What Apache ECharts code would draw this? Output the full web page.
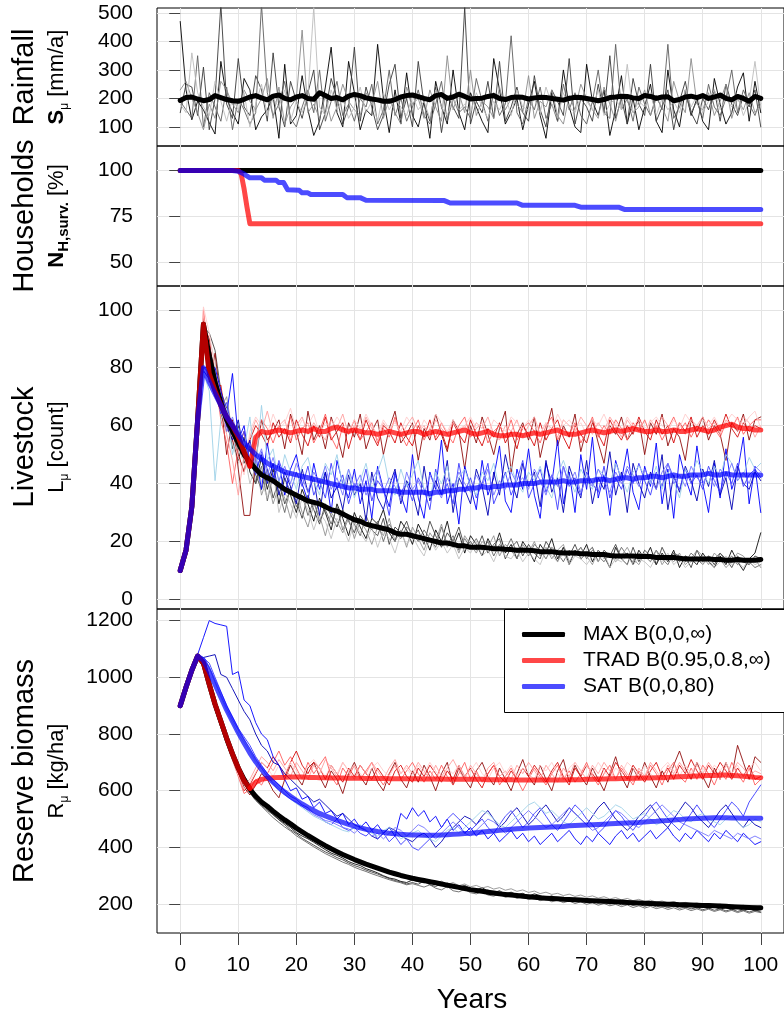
<!DOCTYPE html>
<html><head><meta charset="utf-8">
<script src="https://cdn.jsdelivr.net/npm/echarts@6/dist/echarts.min.js"></script>
<style>html,body{margin:0;padding:0;background:#fff}#c{width:784px;height:1019px}</style>
</head><body><div id="c"></div>
<script>
// ---------- tick labels ----------
const xTicks = [0,10,20,30,40,50,60,70,80,90,100];
const rainTicks = [100,200,300,400,500];
const hhTicks = [50,75,100];
const livTicks = [0,20,40,60,80,100];
const bioTicks = [200,400,600,800,1000,1200];
const legendNames = ['MAX B(0,0,\u221E)','TRAD B(0.95,0.8,\u221E)','SAT B(0,0,80)'];

// ---------- Rainfall (years 0..100) ----------
const rainMean = [193,203,205,198,192,196,210,203,196,192,
190,197,205,210,202,195,208,212,200,195,
205,210,200,197,220,210,200,203,195,208,
214,210,202,198,195,190,190,196,205,210,
212,206,200,195,210,214,200,205,215,207,
198,200,201,207,210,200,196,203,205,204,
198,202,204,203,200,197,194,200,204,203,
200,196,192,196,203,205,208,207,202,200,
210,207,200,205,206,192,196,205,208,203,
210,200,205,212,200,195,207,200,190,207,200];
const rainRun1 = [470,230,125,190,160,115,75,330,200,150,
110,270,230,90,135,160,210,60,320,110,
140,280,160,70,120,240,380,150,100,330,
220,90,160,140,390,200,80,230,110,290,
140,100,190,60,260,170,110,300,150,90,
220,170,120,80,340,230,110,150,200,90,
180,260,140,60,220,120,300,170,100,80,
320,190,140,230,70,160,280,110,200,90,
170,250,120,80,300,160,100,230,140,200,
120,90,270,180,110,150,240,290,120,260,150];
const rainRun2 = [150,250,240,140,310,90,200,530,180,130,
340,170,140,280,230,120,360,170,100,260,
190,130,220,300,90,150,270,200,110,170,
380,120,240,170,90,140,250,320,130,200,
100,330,180,120,240,80,210,170,130,520,
110,190,150,260,130,330,120,170,240,150,
120,280,160,100,230,190,140,340,110,200,
170,120,250,150,350,130,200,110,270,180,
140,320,120,170,230,90,190,260,150,110,
200,160,230,120,250,180,140,210,170,230,100];
const rainRun3 = [190,160,130,350,100,220,170,120,240,90,
200,160,110,150,530,220,140,180,260,130,
100,170,230,150,300,120,190,260,140,180,
120,200,170,250,110,160,300,140,200,120,
170,230,140,110,180,260,120,200,150,170,
130,270,190,120,220,140,180,420,150,110,
200,160,240,130,180,120,250,160,220,140,
110,190,300,150,130,390,160,200,120,240,
180,140,210,160,390,130,170,220,150,190,
130,250,170,140,200,300,150,230,180,140,200];
const rainRun4 = [230,260,200,150,90,180,130,260,230,180,
150,230,190,160,200,270,130,240,110,170,
200,440,150,180,130,210,120,170,250,190,
160,140,220,180,260,130,200,150,110,240,
180,200,130,230,170,120,350,160,220,150,
300,140,190,170,130,240,160,200,180,150,
280,130,190,170,230,140,110,210,160,250,
200,160,130,240,180,120,210,190,150,170,
230,140,200,170,120,260,190,150,340,180,
160,220,140,190,250,130,200,160,220,150,180];
const rainRun5 = [180,150,360,220,170,140,260,190,120,200,
160,220,100,180,250,140,200,170,230,120,
190,150,210,520,170,140,230,160,200,130,
170,240,150,190,120,220,160,200,170,140,
210,160,190,130,230,170,140,200,160,180,
150,220,170,130,190,160,210,140,230,170,
160,200,150,240,180,130,220,170,150,210,
190,160,230,140,180,200,160,320,150,190,
170,220,140,200,160,190,150,230,170,210,
150,190,230,160,200,170,210,140,190,330,170];

// ---------- Households surviving [%] : [year, value] ----------
const hhMax = [[0,100],[100,100]];
const hhTrad = [[0,100],[10,100],[10.5,98],[11,90],[11.5,80],[12,71],[100,71]];
const hhSat = [[0,100],[9,100],[10,99.5],[11,98],[12,96],[14,96],[14.5,94.7],[16.5,94.7],[17,93.4],[17.8,93.4],[18.5,89.5],[20.5,89.2],[21,87.8],[22,87.8],[22.5,86.9],[28,86.9],[28.7,85.2],[31,85.2],[32,83.8],[45.5,83.6],[46.5,82.3],[58,82.3],[59,81],[68,81],[69,80],[75.5,80],[76.5,78.8],[100,78.8]];

// ---------- Livestock (years 0..100 unless a start year is given) ----------
const livMaxMean = [10,17,32,62,95,84,75,68,62,58,
54,50,47.5,45,43,42,41,39.5,38,37,
36,35,34,33.5,33,32,31,30.5,29.5,28.5,
27.5,27,26,25.5,25,24.5,24,23,22.5,22.5,
22,21.5,21,20.5,20,19.5,19.5,19,18.5,18.5,
18,18,18,17.8,17.5,17.5,17.3,17.2,17,17,
17,16.8,16.5,16.5,16.5,16.2,16,16,16,15.8,
15.8,15.5,15.5,15.5,15.2,15,15,15,15,14.8,
14.8,14.8,14.5,14.5,14.5,14.5,14.2,14,14,14,
14,14,13.8,13.8,13.5,13.5,13.8,13.5,13.5,13.5,13.8];
const livTradEarly = [10,17,32,62,95,78,72,67,63,60,56,51,46];
const livTradMeanStart = 12;
const livTradMean = [46,56,58,57.5,58,58.5,58,57.5,
58,58.5,58,59,58,58,59,59.5,58.5,58,
58.5,58,57.5,57.5,57,57.5,58,57.5,57,57.5,
58,58,57,57.5,58,57.5,57,57.5,58,58.5,
57.5,57,57.5,58,57,56.5,56.5,57,57,56.5,
57,57.5,57,57.5,58,58.5,57.5,57,57,57.5,
58,58.5,58,57.5,58,58.5,58,58.5,59,58.5,
58,58,58.5,58,58,58.5,58,58,58.5,59,
58.5,58,58.5,59.5,60,60.5,59.5,59,59,58.5,58.5];
const livSatMean = [10,17,32,62,80,75,71,67,63,60,
57,54,52,50,48.5,47,46,45,44,43.5,
43,42.5,42,41.5,41,40.5,40,39.5,39,38.5,
38.5,38,38,38,37.5,37.5,37.5,37.5,37,37,
37,37,37,36.5,37,37,37.5,37.5,38,38,
38.5,38.5,39,38.5,39,39,39.5,39.5,39.5,40,
40,40,40.5,40.5,40.5,40.5,41,40.5,40.5,41,
41,41,41.5,41.5,41,41.5,42,42,41.5,42,
42,42.5,42.5,42,42.5,43,42.5,42.5,43,43,
43,43.5,43,43,43.5,43,43,43,43,43,43];

const livMaxRun1 = [10,17,32,62,96,88,78,70,60,55,
48,56,44,40,49,38,45,33,42,36,
30,38,33,27,35,30,24,33,28,22,
30,25,21,28,26,31,23,20,27,24,
19,26,22,17,24,20,27,18,23,16,
22,19,15,21,17,23,16,19,14,20,
17,13,19,16,21,14,18,12,17,15,
19,13,17,15,11,18,14,16,12,17,
14,18,12,16,13,17,11,15,14,12,
16,13,11,15,12,17,13,10,14,16,23];
const livMaxRun2 = [10,17,32,62,94,92,86,72,66,52,
60,47,52,43,38,45,35,41,33,38,
34,28,36,31,26,33,29,25,31,27,
23,29,26,24,22,28,19,25,23,27,
21,24,19,27,22,18,23,20,25,18,
20,17,22,16,19,21,14,18,20,15,
19,16,14,20,17,13,18,15,19,14,
16,18,13,17,15,19,14,12,18,13,
17,15,12,18,14,16,13,15,11,17,
13,15,12,16,14,11,15,13,12,15,14];
const livMaxRun3 = [10,17,32,62,92,84,80,64,58,62,
50,44,53,40,46,34,43,37,30,39,
32,36,29,34,27,31,26,32,24,29,
26,22,29,24,27,20,26,23,21,25,
23,20,24,21,18,25,19,22,17,21,
18,21,17,20,15,19,17,21,16,18,
15,19,17,14,18,16,13,17,15,18,
14,17,15,13,16,14,18,15,13,16,
15,13,17,14,12,16,15,13,16,14,
12,15,14,16,13,15,12,14,13,11,12];
const livMaxRun4 = [10,17,32,62,95,86,74,66,70,57,
52,58,45,48,36,42,33,39,35,28,
37,30,25,33,29,22,30,27,23,28,
21,27,24,19,25,22,28,20,24,18,
25,21,17,23,20,26,18,21,16,22,
19,16,20,18,22,15,19,17,14,19,
16,20,15,18,14,17,19,13,16,18,
15,12,17,14,16,13,15,18,14,12,
16,14,17,12,15,13,16,12,14,17,
15,12,16,14,11,13,16,15,12,14,11];
const livMaxRun5 = [10,17,32,62,93,90,82,68,61,54,
47,51,40,46,41,35,44,30,37,33,
28,35,31,24,30,27,21,28,25,20,
27,23,20,25,18,24,21,16,23,19,
22,18,15,21,17,20,16,19,14,18,
16,20,15,17,13,18,15,14,17,13,
16,14,12,17,15,13,16,12,15,14,
12,15,13,16,11,14,13,15,12,14,
13,11,15,13,16,12,14,11,13,15,
12,14,11,13,15,12,13,11,14,12,13];

const livTradRun1 = [10,17,32,62,97,75,85,68,50,62,
45,29,29,48,62,55,58,62,52,64,
58,50,65,55,60,52,63,57,49,61,
56,64,52,58,62,50,59,65,54,57,
61,48,59,55,64,57,51,62,58,45,
60,54,63,57,50,59,65,44,57,61,
55,63,49,58,66,53,60,56,64,51,
59,62,54,47,60,57,63,55,58,62,
50,61,57,64,53,59,56,48,62,58,
63,55,60,57,48,61,58,64,55,62,63];
const livTradRun2 = [10,17,32,62,95,90,72,74,60,55,
50,44,55,60,57,53,61,56,59,54,
62,57,53,60,56,63,55,58,61,52,
59,55,62,57,53,60,58,54,61,56,
53,60,56,62,55,58,52,61,57,54,
62,57,53,59,56,61,54,58,52,60,
57,53,61,55,59,62,56,52,60,57,
54,61,57,53,62,58,55,60,57,63,
58,55,62,57,60,54,61,58,63,56,
60,57,62,58,64,59,56,61,58,60,59];
const livTradRun3 = [10,17,32,62,100,82,76,62,54,40,
52,58,47,56,62,59,54,60,57,63,
55,59,61,54,58,64,56,52,60,57,
62,55,58,61,54,59,56,63,57,53,
58,62,55,59,56,61,57,54,60,63,
56,59,61,54,58,60,56,62,55,59,
61,58,54,60,63,55,59,57,61,54,
58,63,56,60,57,62,59,55,61,58,
62,57,60,55,59,63,58,61,56,60,
58,62,59,56,61,59,63,57,60,62,62];
const livTradRun4 = [10,17,32,62,98,88,70,66,57,48,
36,50,56,62,58,65,57,60,62,55,
60,63,57,61,58,55,62,59,64,57,
60,57,63,59,55,61,58,62,56,60,
63,58,60,56,62,59,57,61,58,60,
57,61,59,63,57,55,60,58,62,56,
60,63,57,61,59,56,62,60,58,63,
60,57,61,58,63,60,56,62,59,61,
57,62,59,63,60,58,61,57,62,60,
63,59,61,57,62,60,58,63,61,56,60];
const livTradRun5 = [10,17,32,62,101,92,80,71,63,56,
49,43,58,63,60,57,64,59,61,66,
58,62,60,64,57,61,59,63,60,58,
62,59,64,60,57,62,59,61,58,63,
60,57,62,59,64,61,58,62,59,60,
63,59,61,57,62,60,58,63,61,59,
62,60,57,61,58,64,60,62,59,61,
57,62,60,64,59,61,58,63,60,62,
59,61,63,60,58,62,59,64,61,60,
62,60,63,59,61,64,62,60,63,65,59];

const livSatRun1 = [10,17,32,62,80,80,80,72,64,78,
55,60,46,50,38,54,42,47,36,45,
50,40,34,47,38,44,30,48,40,35,
45,33,41,28,46,38,32,44,36,30,
50,35,28,44,38,55,33,40,26,46,
39,31,48,36,42,53,34,30,45,38,
52,36,28,47,40,55,33,44,30,50,
38,56,35,43,29,48,41,52,37,31,
46,39,54,33,45,28,50,42,36,53,
40,30,47,35,52,38,44,56,33,46,30];
const livSatRun2 = [10,17,32,62,79,76,70,66,60,55,
62,50,55,44,50,40,47,36,44,39,
33,45,37,42,29,44,35,39,31,43,
36,40,27,44,35,31,39,45,33,41,
37,29,46,34,41,36,48,30,42,38,
33,45,39,29,44,36,50,41,35,47,
39,44,32,48,37,42,30,46,40,35,
48,33,42,38,51,36,44,30,47,40,
35,44,38,50,31,43,37,46,41,34,
45,39,48,36,42,31,46,40,38,44,41];
const livSatRun3 = [10,17,32,62,80,78,73,64,68,57,
53,58,48,43,51,45,40,48,42,37,
44,39,46,36,41,35,47,38,43,33,
40,37,45,34,41,38,29,43,37,40,
34,42,38,31,45,36,40,33,47,37,
42,35,40,47,33,38,44,36,41,48,
35,40,45,37,43,31,46,39,42,36,
44,40,37,46,35,42,38,45,40,47,
41,36,44,39,47,42,38,45,40,43,
38,46,41,37,44,40,47,39,43,45,42];
const livSatRun4 = [10,17,32,62,78,72,41,62,66,50,
59,52,63,45,67,48,52,40,50,44,
38,46,49,41,36,47,43,50,39,45,
35,41,47,38,44,50,40,36,45,39,
43,48,38,35,44,40,46,37,42,45,
39,36,44,41,47,38,43,46,40,37,
44,41,46,39,35,43,48,42,37,45,
41,38,45,43,40,47,42,37,44,46,
43,40,46,38,44,41,35,45,42,48,
44,40,46,42,50,47,41,43,49,45,47];
const livSatRun5 = [10,17,32,62,80,79,75,70,58,63,
56,49,54,47,52,43,49,41,46,40,
47,42,37,44,40,46,38,42,36,45,
39,43,36,41,45,37,42,39,34,44,
38,41,36,43,39,35,42,38,44,40,
37,43,39,45,36,41,38,44,40,42,
38,45,41,36,43,39,46,40,44,37,
42,39,45,41,37,44,40,46,43,39,
45,41,38,44,47,40,43,39,46,42,
40,44,39,45,42,47,41,44,40,46,44];

// ---------- Reserve biomass ----------
const bioMaxMean = [900,965,1025,1075,1050,975,905,845,785,730,
680,640,605,580,560,545,528,512,497,483,
468,455,442,430,418,406,395,385,375,366,
357,349,341,334,327,320,313,307,301,296,
291,287,283,279,275,271,267,263,259,255,
251,248,245,242,239,236,234,232,230,228,
226,224,222,221,220,219,217,216,215,214,
213,212,211,210,209,208,207,206,205,204,
203,202,201,200,199,199,198,198,197,196,
195,195,194,193,192,191,190,189,188,187,187];
const bioTradEarly = [900,965,1025,1075,1050,975,905,845,785,730,680,635,608];
const bioTradMeanStart = 12;
const bioTradMean = [608,630,640,644,646,647,647,648,
648,648,647,647,646,646,645,645,645,644,
644,644,643,643,643,643,642,642,642,642,
642,642,641,641,641,641,640,640,640,640,
640,640,640,639,639,639,639,639,638,638,
638,638,638,638,638,638,638,639,639,639,
640,640,641,641,642,642,643,643,644,644,
645,645,646,646,647,648,649,650,651,652,
653,654,654,655,655,654,653,651,649,647,646];
const bioSatMean = [900,965,1025,1075,1060,1020,975,930,885,845,
805,768,733,702,675,650,630,612,595,580,
566,553,541,530,520,511,503,495,488,481,
475,469,464,460,456,453,450,448,446,445,
444,444,443,443,443,444,445,446,447,449,
450,452,454,456,458,460,462,464,466,467,
468,469,470,471,472,473,474,476,477,478,
479,480,481,482,483,484,485,486,487,488,
490,491,492,494,495,497,498,500,501,502,
503,504,505,505,505,504,504,503,503,503,503];

const bioMaxRun1 = [900,965,1025,1070,1040,965,890,830,770,715,
670,630,598,575,551,537,515,498,485,470,
452,440,430,418,405,392,380,372,362,350,
342,336,325,318,310,300,292,288,280,276,
285,279,275,282,270,266,274,262,258,266,
255,250,258,246,240,247,236,242,233,238,
228,236,230,222,229,218,224,216,221,213,
219,209,215,207,212,204,210,201,207,198,
205,196,202,193,199,191,197,188,194,186,
192,184,190,182,188,180,186,178,184,176,180];
const bioMaxRun2 = [900,965,1025,1072,1045,972,900,838,778,722,
676,636,600,572,548,530,516,497,480,462,
448,432,420,408,396,384,375,364,356,345,
336,329,320,313,306,298,290,283,278,271,
276,270,281,268,262,272,258,265,253,259,
248,254,243,250,238,244,234,239,229,235,
225,231,221,227,217,223,213,219,210,215,
206,212,203,209,200,206,197,203,195,200,
192,198,190,195,187,193,185,190,183,188,
180,186,178,184,176,182,174,180,172,178,172];
const bioMaxRun3 = [900,965,1025,1068,1035,958,885,822,762,708,
662,622,592,565,545,525,505,488,472,458,
441,428,415,402,390,378,368,358,348,340,
330,322,315,307,300,293,286,280,275,268,
272,266,260,268,256,250,262,247,243,252,
240,236,245,232,228,236,224,230,220,226,
216,222,212,218,208,214,205,211,202,208,
199,205,196,202,194,199,191,197,188,194,
186,192,184,189,181,187,179,185,177,183,
176,182,174,180,172,178,170,176,168,174,170];
const bioMaxRun4 = [900,965,1025,1071,1048,978,908,846,790,738,
690,652,618,590,568,548,530,512,496,480,
465,450,436,424,412,400,390,380,370,361,
352,344,337,330,322,315,308,302,296,290,
284,290,279,286,274,281,269,276,265,271,
261,266,257,262,253,258,249,254,245,250,
241,246,237,242,234,238,230,235,227,232,
224,229,221,226,218,223,215,220,212,217,
209,214,207,211,204,209,202,206,200,204,
198,202,196,200,194,198,192,196,190,194,188];

const bioTradRun1 = [900,965,1025,1078,1060,990,915,845,780,720,
665,612,585,620,660,640,600,575,640,690,
650,620,680,700,650,610,670,640,590,660,
700,650,620,680,630,600,660,700,640,610,
670,630,690,650,600,660,700,620,680,640,
610,670,700,650,620,680,640,600,660,710,
650,620,690,640,600,670,710,630,690,650,
620,680,640,600,660,720,650,610,680,640,
700,650,610,670,630,690,740,680,640,700,
650,610,680,640,700,650,760,700,640,720,700];
const bioTradRun2 = [900,965,1025,1075,1055,985,910,840,775,715,
660,600,620,660,700,680,720,690,650,700,
740,690,660,700,680,640,690,660,630,680,
650,690,660,640,680,650,620,670,690,650,
630,680,650,690,660,630,670,640,690,650,
680,640,610,660,690,650,630,670,640,680,
650,690,660,630,670,700,650,620,680,650,
690,660,630,680,650,700,670,640,690,660,
630,670,700,650,680,640,690,660,710,670,
640,690,660,700,670,640,680,650,690,640,650];
const bioTradRun3 = [900,965,1025,1074,1050,980,905,835,770,708,
650,590,605,640,620,660,700,740,690,720,
680,640,700,660,690,720,650,620,680,650,
690,640,670,700,650,620,660,690,640,670,
700,660,630,670,640,690,650,620,660,700,
640,670,630,660,690,620,650,680,640,600,
640,680,650,620,660,690,640,670,630,660,
700,650,620,660,690,640,680,650,620,670,
640,690,660,620,670,700,650,630,680,640,
690,660,620,670,640,700,660,630,680,620,640];
const bioTradRun4 = [900,965,1025,1076,1058,992,920,850,785,728,
672,622,640,680,720,700,670,710,680,650,
700,670,640,690,660,710,680,650,700,670,
640,690,660,700,670,640,680,710,660,690,
660,700,670,640,690,650,680,710,670,640,
690,660,630,680,700,650,670,640,690,660,
700,670,640,690,660,630,680,650,700,670,
640,690,660,700,670,640,690,660,630,680,
650,700,670,640,690,660,700,670,650,690,
660,700,670,640,690,660,700,680,650,670,660];
const bioTradRun5 = [900,965,1025,1073,1052,982,908,838,772,712,
655,605,630,665,700,680,650,690,660,700,
670,640,690,710,680,650,690,660,700,670,
690,660,640,680,700,670,650,690,660,680,
650,690,660,700,670,640,680,660,690,650,
670,700,660,640,680,700,660,690,650,680,
660,640,690,670,700,660,640,680,700,670,
690,660,700,670,640,680,660,700,680,650,
690,660,640,680,700,670,650,690,660,700,
680,650,690,670,700,660,690,650,680,700,670];

const bioSatRun1 = [900,965,1025,1080,1140,1200,1190,1185,1180,1010,
1020,920,900,840,800,780,720,690,640,600,
610,570,580,540,560,520,530,500,520,480,
500,470,490,460,480,450,470,440,520,500,
540,510,530,490,510,470,500,460,480,450,
470,440,460,430,450,420,440,460,430,450,
420,440,410,430,450,420,440,460,430,410,
440,420,450,430,410,440,460,430,450,420,
440,460,430,450,470,440,420,450,430,460,
440,420,450,430,460,440,420,450,430,410,420];
const bioSatRun2 = [900,965,1025,1075,1070,1075,1080,1010,1000,960,
920,880,850,800,760,740,700,690,660,640,
620,600,580,560,570,550,530,510,520,500,
480,470,460,440,430,450,470,460,440,430,
420,440,450,430,400,420,450,470,490,510,
500,480,510,530,500,470,490,520,540,510,
480,500,530,550,520,490,510,540,520,500,
480,510,540,560,530,500,480,460,480,510,
530,550,520,490,470,500,530,560,540,510,
490,470,500,530,550,520,490,470,500,480,470];
const bioSatRun3 = [900,965,1025,1074,1068,1050,1000,950,900,860,
820,790,760,720,690,660,640,620,600,580,
570,550,540,520,510,490,480,500,470,460,
470,450,440,460,430,450,420,440,410,430,
400,390,410,430,450,470,500,520,500,480,
460,480,500,470,450,480,510,530,500,470,
490,520,540,510,480,460,490,520,550,530,
500,480,450,470,500,530,510,480,460,490,
510,540,560,530,500,480,460,490,520,550,
520,490,470,500,530,560,540,510,560,590,620];
const bioSatRun4 = [900,965,1025,1073,1060,1040,980,930,880,840,
800,770,740,700,680,650,630,610,590,570,
555,540,525,510,500,490,480,470,460,455,
470,480,460,450,440,460,470,450,430,440,
450,460,440,430,420,440,460,470,450,470,
490,510,530,520,500,480,470,490,510,530,
550,560,540,520,530,510,490,480,500,520,
540,520,500,510,530,550,540,520,500,510,
520,500,480,490,510,530,520,500,490,510,
520,500,490,480,500,510,490,470,480,500,490];
const bioSatRun5 = [900,965,1025,1075,1065,1035,985,935,890,850,
815,780,750,710,680,650,625,600,585,570,
560,545,530,515,505,495,490,480,470,465,
450,470,460,440,450,430,450,470,460,440,
460,480,470,450,430,450,470,490,470,450,
440,460,480,500,490,470,450,470,490,510,
530,510,490,470,480,500,520,540,520,500,
480,460,470,490,510,530,520,500,480,470,
490,510,530,550,530,510,490,480,470,460,
450,440,460,450,440,430,450,440,430,440,430];

// ---------- styles ----------
const F = '"Liberation Sans", Arial, Helvetica, sans-serif';
const greyRuns = ['#000000','#3a3a3a','#5e5e5e','#8c8c8c','#bdbdbd'];
const redRuns = ['#8b0000','#d40000','#ff5656','#ff9a9a','#ffcaca'];
const blueRuns = ['#0000ff','#0000b4','#3c3cff','#9fd2e8','#7474ff'];
const C_MAX = '#000000', C_TRAD = 'rgba(255,0,0,0.72)', C_SAT = 'rgba(0,0,255,0.7)', C_TRAD_EARLY = '#b40000';

function yrs(vals, start){ start = start || 0; return vals.map((v,i)=>[start+i, v]); }
let sid = 0;
function ln(g, data, color, width, name, opacity){
  return {type:'line', name: name || ('s'+(sid++)), xAxisIndex:g, yAxisIndex:g, data,
    symbol:'none', silent:true, animation:false, color,
    lineStyle:{color, width, opacity: opacity==null?1:opacity, cap:'round', join:'round'}};
}

const series = [];
// panel 0 rainfall
[rainRun1,rainRun2,rainRun3,rainRun4,rainRun5].forEach((r,i)=>series.push(ln(0, yrs(r), greyRuns[i], 1, null, 0.9)));
series.push(ln(0, yrs(rainMean), '#000', 5));
// panel 1 households
series.push(ln(1, hhMax, C_MAX, 5));
series.push(ln(1, hhTrad, C_TRAD, 5));
series.push(ln(1, hhSat, C_SAT, 5));
// panel 2 livestock
[livMaxRun1,livMaxRun2,livMaxRun3,livMaxRun4,livMaxRun5].forEach((r,i)=>series.push(ln(2, yrs(r), greyRuns[i], 1, null, 0.85)));
[livTradRun1,livTradRun2,livTradRun3,livTradRun4,livTradRun5].forEach((r,i)=>series.push(ln(2, yrs(r), redRuns[i], 1, null, 0.85)));
[livSatRun1,livSatRun2,livSatRun3,livSatRun4,livSatRun5].forEach((r,i)=>series.push(ln(2, yrs(r), blueRuns[i], 1, null, 0.9)));
series.push(ln(2, yrs(livMaxMean), C_MAX, 5));
series.push(ln(2, yrs(livTradEarly), C_TRAD_EARLY, 5));
series.push(ln(2, yrs(livTradMean, livTradMeanStart), C_TRAD, 5));
series.push(ln(2, yrs(livSatMean), C_SAT, 5));
// panel 3 biomass
[bioMaxRun1,bioMaxRun2,bioMaxRun3,bioMaxRun4].forEach((r,i)=>series.push(ln(3, yrs(r), greyRuns[i], 1, null, 0.85)));
[bioTradRun1,bioTradRun2,bioTradRun3,bioTradRun4,bioTradRun5].forEach((r,i)=>series.push(ln(3, yrs(r), redRuns[i], 1, null, 0.85)));
[bioSatRun1,bioSatRun2,bioSatRun3,bioSatRun4,bioSatRun5].forEach((r,i)=>series.push(ln(3, yrs(r), blueRuns[i], 1, null, 0.9)));
series.push(ln(3, yrs(bioMaxMean), C_MAX, 5, legendNames[0]));
series.push(ln(3, yrs(bioTradEarly), C_TRAD_EARLY, 5));
series.push(ln(3, yrs(bioTradMean, bioTradMeanStart), C_TRAD, 5, legendNames[1]));
series.push(ln(3, yrs(bioSatMean), C_SAT, 5, legendNames[2]));

const gridDefs = [[8,138],[146,140],[286,323],[609,324]];
const yDefs = [[33,517.5,rainTicks],[37.1,113.3,hhTicks],[-3.3,108.2,livTicks],[98,1241,bioTicks]];

const grid = gridDefs.map(g=>({left:157, width:630, top:g[0], height:g[1], show:true, borderColor:'#000', borderWidth:1, backgroundColor:'transparent'}));
const xAxis = gridDefs.map((g,i)=>({type:'value', gridIndex:i, min:-4, max:104,
  axisLine:{show:false},
  axisTick:{show:i===3, customValues:xTicks, length:12, lineStyle:{color:'#444'}},
  axisLabel:{show:i===3, customValues:xTicks, fontSize:21, color:'#000', fontFamily:F, margin:22, formatter:v=>String(v)},
  splitLine:{show:true, lineStyle:{color:'#e4e4e4', width:1}}}));
const yAxis = yDefs.map((d,i)=>({type:'value', gridIndex:i, min:d[0], max:d[1],
  axisLine:{show:false},
  axisTick:{show:true, customValues:d[2], length:11, lineStyle:{color:'#444'}},
  axisLabel:{customValues:d[2], fontSize:21, color:'#000', fontFamily:F, margin:24, formatter:v=>String(v)},
  splitLine:{show:true, lineStyle:{color:'#e4e4e4', width:1}}}));

const richSub = {
  b:{fontSize:22, fontWeight:'bold', fontFamily:F, lineHeight:28, verticalAlign:'middle', color:'#000'},
  r:{fontSize:22, fontFamily:F, lineHeight:28, verticalAlign:'middle', color:'#000'},
  s:{fontSize:12, fontFamily:F, lineHeight:12, verticalAlign:'bottom', color:'#000'},
  bs:{fontSize:15, fontWeight:'bold', fontFamily:F, lineHeight:15, verticalAlign:'bottom', color:'#000'}
};
function bigLabel(y, text){
  return {type:'text', x:25, y, rotation:Math.PI/2, z:100,
    style:{text, fontSize:29, fontFamily:F, fill:'#000', align:'center', verticalAlign:'middle'}};
}
function subLabel(y, text){
  return {type:'text', x:57, y, rotation:Math.PI/2, z:100,
    style:{text, rich:richSub, fontSize:22, fontFamily:F, fill:'#000', align:'center', verticalAlign:'middle'}};
}

const option = {
  animation:false,
  backgroundColor:'#fff',
  grid, xAxis, yAxis, series,
  legend:{orient:'vertical', left:517, top:619, itemWidth:43, itemHeight:5, itemGap:5, icon:'roundRect',
    selectedMode:false, z:20,
    textStyle:{fontSize:21, color:'#000', fontFamily:F, lineHeight:21, padding:[0,0,0,13]},
    data:legendNames},
  graphic:[
    {type:'rect', shape:{x:504.5, y:609.5, width:300, height:103}, style:{fill:'#fff', stroke:'#000', lineWidth:1}, z:10},
    bigLabel(77,'Rainfall'), subLabel(77,'{b|S}{s|\u03BC} {r|[mm/a]}'),
    bigLabel(216,'Households'), subLabel(216,'{b|N}{bs|H,surv.} {r|[%]}'),
    bigLabel(447,'Livestock'), subLabel(447,'{r|L}{s|\u03BC} {r|[count]}'),
    bigLabel(771,'Reserve biomass'), subLabel(771,'{r|R}{s|\u03BC} {r|[kg/ha]}'),
    {type:'text', x:472, y:1000, z:100, style:{text:'Years', fontSize:28, fontFamily:F, fill:'#000', align:'center', verticalAlign:'middle'}}
  ]
};
const chart = echarts.init(document.getElementById('c'), null, {renderer:'canvas'});
chart.setOption(option);
</script>
</body></html>
